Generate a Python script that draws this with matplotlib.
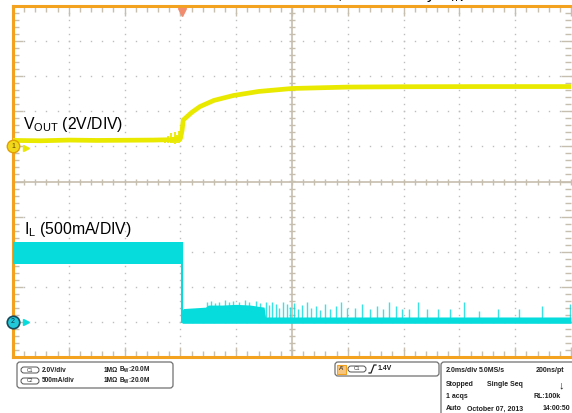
import numpy as np
import matplotlib
matplotlib.use("Agg")
import matplotlib.pyplot as plt
from matplotlib.patches import FancyBboxPatch
from matplotlib.ticker import MultipleLocator

plt.rcParams["font.family"] = ["Liberation Sans", "DejaVu Sans"]
plt.rcParams["mathtext.default"] = "regular"

W, H = 572, 413
MS_PER_DIV = 2.0
V_PER_DIV = 2.0
A_PER_DIV = 0.5
CH1_GND = 1.0     # ground marker position, divisions from centre
CH2_GND = -4.0
T_TRIG = 6.06     # ms

YELLOW = "#e9e900"
CYAN = "#06dcdc"
ORANGE = "#f3a21f"
GRID = "#bdbdbd"
CENTRE = "#c6beae"

# CH1: output voltage (ms, V)
vout_t = [0.0, 1.0, 2.0, 3.0, 4.0, 5.0, 5.6, 6.0, 6.06, 6.1, 6.4, 6.7, 7.2, 7.9, 8.8, 10.0, 12.0, 14.0, 17.0, 20.0]
vout_v = [0.34, 0.32, 0.36, 0.34, 0.35, 0.36, 0.38, 0.45, 0.9, 1.5, 1.93, 2.27, 2.62, 2.9, 3.13, 3.3, 3.38, 3.4, 3.41, 3.41]
# switching jitter just before the ramp
vjit_t = [5.45, 5.55, 5.65, 5.72, 5.8, 5.88, 5.95, 6.0, 6.03]
vjit_lo = [0.22, 0.2, 0.18, 0.22, 0.15, 0.2, 0.18, 0.25, 0.3]
vjit_hi = [0.5, 0.6, 0.75, 0.55, 0.8, 0.65, 0.9, 0.7, 1.0]

# CH2: inductor current (ms, A)
il_high_t = [0.0, 6.06]
il_high_top = [1.14, 1.14]
il_high_bot = [0.82, 0.82]
il_low_t = [6.06, 6.1, 6.5, 6.9, 7.0, 7.5, 8.0, 8.5, 9.0, 9.05, 20.0]
il_low_top = [0.16, 0.19, 0.2, 0.21, 0.24, 0.24, 0.25, 0.24, 0.21, 0.07, 0.07]
il_low_bot = [-0.02, -0.02, -0.02, -0.02, -0.02, -0.02, -0.02, -0.02, -0.02, -0.02, -0.02]
il_spike_t = [6.95, 7.1, 7.25, 7.4, 7.6, 7.75, 7.9, 8.1, 8.3, 8.45, 8.7, 8.85,
              9.07, 9.18, 9.28, 9.43, 9.53, 9.68, 9.82, 9.93, 10.07, 10.22, 10.36, 10.54,
              10.68, 10.86, 11.0, 11.18, 11.36, 11.58, 11.76, 11.97, 12.26, 12.51, 12.8, 13.05,
              13.26, 13.48, 13.73, 13.94, 14.19, 14.52, 14.84, 15.23, 15.66, 16.16, 16.7,
              17.38, 18.14, 18.96, 19.96]
il_spike_a = [0.28, 0.3, 0.27, 0.29, 0.31, 0.28, 0.3, 0.29, 0.31, 0.28, 0.3, 0.27,
              0.28, 0.24, 0.29, 0.25, 0.2, 0.28, 0.25, 0.21, 0.27, 0.18, 0.24, 0.28,
              0.2, 0.22, 0.17, 0.26, 0.19, 0.23, 0.28, 0.2, 0.2, 0.26, 0.19, 0.22,
              0.18, 0.28, 0.23, 0.19, 0.18, 0.28, 0.19, 0.19, 0.18, 0.28, 0.15,
              0.19, 0.19, 0.22, 0.25]


def v2div(v):
    return CH1_GND + np.asarray(v) / V_PER_DIV


def a2div(a):
    return CH2_GND + np.asarray(a) / A_PER_DIV


fig = plt.figure(figsize=(W / 100, H / 100), dpi=100)
ax = fig.add_axes([13 / W, 1 - 357 / H, 558 / W, 351 / H])
ax.set_xlim(0, 10 * MS_PER_DIV)
ax.set_ylim(-5, 5)

# graticule
for xd in range(1, 10):
    if xd == 5:
        continue
    ys = np.arange(-5, 5.01, 0.2)
    ax.plot(np.full_like(ys, xd * MS_PER_DIV), ys, ls="none", marker="s", ms=1.0, mew=0, color=GRID, zorder=1)
for yd in range(-4, 5):
    if yd == 0:
        continue
    xs = np.arange(0, 20.01, 0.4)
    ax.plot(xs, np.full_like(xs, yd), ls="none", marker="s", ms=1.0, mew=0, color=GRID, zorder=1)
ax.axhline(0, color=CENTRE, lw=1.2, zorder=1)
ax.axvline(5 * MS_PER_DIV, color=CENTRE, lw=1.2, zorder=1)
xm = np.arange(0, 20.01, 0.4)
ax.plot(xm, np.zeros_like(xm), ls="none", marker="|", ms=5, mew=1, color=CENTRE, zorder=1)
ym = np.arange(-5, 5.01, 0.2)
ax.plot(np.full_like(ym, 10.0), ym, ls="none", marker="_", ms=5, mew=1, color=CENTRE, zorder=1)

ax.xaxis.set_major_locator(MultipleLocator(MS_PER_DIV))
ax.xaxis.set_minor_locator(MultipleLocator(MS_PER_DIV / 5))
ax.yaxis.set_major_locator(MultipleLocator(1))
ax.yaxis.set_minor_locator(MultipleLocator(0.2))
ax.tick_params(which="both", direction="in", top=True, right=True,
               labelbottom=False, labelleft=False, color=CENTRE, width=1)
ax.tick_params(which="major", length=7)
ax.tick_params(which="minor", length=4)
for side in ["left", "top", "bottom"]:
    ax.spines[side].set_color(ORANGE)
    ax.spines[side].set_linewidth(2.2)
ax.spines["right"].set_visible(False)

# CH1 trace
ax.plot(vout_t, v2div(vout_v), color=YELLOW, lw=3.4, solid_capstyle="butt", zorder=4)
ax.vlines(vjit_t, v2div(vjit_lo), v2div(vjit_hi), color=YELLOW, lw=1.3, zorder=4)

# CH2 trace
ax.fill_between(il_high_t, a2div(il_high_bot), a2div(il_high_top), color=CYAN, lw=0, zorder=3)
ax.vlines([T_TRIG], a2div(-0.02), a2div(il_high_top[1]), color=CYAN, lw=1.5, zorder=3)
ax.fill_between(il_low_t, a2div(il_low_bot), a2div(il_low_top), color=CYAN, lw=0, zorder=3)
ax.vlines(il_spike_t, a2div(0.0), a2div(il_spike_a), color=CYAN, lw=1.0, alpha=0.8, zorder=3)

# channel markers and trigger marker
ax.plot([0], [CH1_GND], marker="o", ms=9, mfc="#f2d81a", mec="#e0a000", mew=1, clip_on=False, zorder=6)
ax.text(0, CH1_GND, "1", fontsize=5, ha="center", va="center", color="#604000", zorder=7, clip_on=False)
ax.plot([0.45], [CH1_GND - 0.05], marker=">", ms=4, color=YELLOW, clip_on=False, zorder=6)
ax.plot([0], [CH2_GND], marker="o", ms=9, mfc="#20c8d8", mec="#184a5a", mew=1.2, clip_on=False, zorder=6)
ax.text(0, CH2_GND, "2", fontsize=5, ha="center", va="center", color="#103040", zorder=7, clip_on=False)
ax.plot([0.45], [CH2_GND], marker=">", ms=4, color=CYAN, clip_on=False, zorder=6)
ax.plot([T_TRIG], [4.83], marker="v", ms=6, color="#f28c6e", clip_on=False, zorder=6)

# overlay in pixel coordinates for labels and status panels
ov = fig.add_axes([0, 0, 1, 1], facecolor="none")
ov.set_xlim(0, W)
ov.set_ylim(H, 0)
ov.axis("off")

ov.text(23, 129, "V$_{OUT}$ (2V/DIV)", fontsize=11.3, va="baseline")
ov.text(24, 234, "I$_{L}$ (500mA/DIV)", fontsize=11.3, va="baseline")
ov.text(464, -1.5, "Soft-Start Waveforms, Powered by V$_{IN}$", fontsize=12, va="baseline", ha="right")


def panel(x0, y0, x1, y1):
    ov.add_patch(FancyBboxPatch((x0, y0), x1 - x0, y1 - y0, boxstyle="round,pad=0,rounding_size=3",
                                fc="white", ec="#707070", lw=0.9))


def chip(x, y, label):
    ov.add_patch(FancyBboxPatch((x, y - 3), 18, 6, boxstyle="round,pad=0,rounding_size=3",
                                fc="white", ec="#505050", lw=0.7))
    ov.text(x + 9, y, label, fontsize=3.6, ha="center", va="center", color="#303030")


sfont = dict(fontsize=4.7, fontweight="bold", color="#202020", va="center")
rfont = dict(fontsize=5.0, fontweight="bold", color="#202020", va="center")

panel(17, 362, 173, 388)
chip(21, 370, "C1")
ov.text(42, 370, "2.0V/div", **sfont)
ov.text(104, 370, "1MΩ", **sfont)
ov.text(119, 370, "B$_W$:20.0M", **sfont)
chip(21, 381, "C2")
ov.text(42, 381, "500mA/div", **sfont)
ov.text(104, 381, "1MΩ", **sfont)
ov.text(119, 381, "B$_W$:20.0M", **sfont)

panel(335, 362, 439, 376)
ov.add_patch(plt.Rectangle((337, 364.5), 9, 9, fc="#f7c680", ec=ORANGE, lw=0.8))
ov.text(341.5, 369, "A'", fontsize=4.6, ha="center", va="center", color="#202020")
chip(348, 369, "C1")
# rising-edge trigger symbol
ov.plot([369, 371, 374, 376], [373, 373, 365, 365], color="#202020", lw=0.9)
ov.text(378, 369, "1.4V", **rfont)

panel(441, 362, 576, 420)
ov.text(446, 371, "2.0ms/div", **rfont)
ov.text(479, 371, "5.0MS/s", **rfont)
ov.text(536, 371, "200ns/pt", **rfont)
ov.text(446, 384, "Stopped", **rfont)
ov.text(487, 384, "Single Seq", **rfont)
ov.text(559, 385, "\u2193", fontsize=8, fontweight="bold", color="#202020", va="center")
ov.text(446, 397, "1 acqs", **rfont)
ov.text(533, 397, "RL:100k", **rfont)
ov.text(446, 409, "Auto", **rfont)
ov.text(467, 409, "October 07, 2013", **rfont)
ov.text(543, 409, "14:00:50", **rfont)

fig.savefig("out.png", dpi=100)
